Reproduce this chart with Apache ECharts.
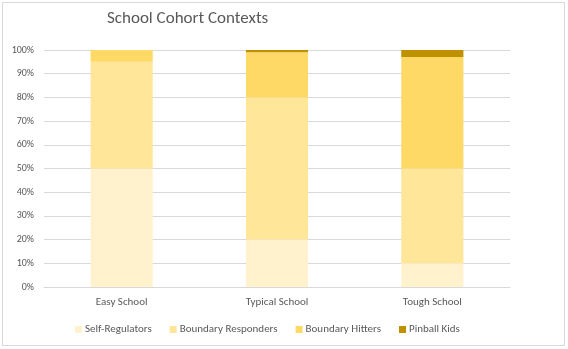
<!DOCTYPE html>
<html><head><meta charset="utf-8">
<script src="https://cdn.jsdelivr.net/npm/echarts@6/dist/echarts.min.js"></script>
<style>html,body{margin:0;padding:0;background:#fff}
#frame{position:absolute;left:2px;top:2px;width:563px;height:344px;border:1px solid #D9D9D9;box-sizing:border-box}
#c{position:absolute;left:0;top:0;width:568px;height:349px}</style>
</head><body><div id="frame"></div><div id="c"></div>
<script>
const categories = ['Easy School', 'Typical School', 'Tough School'];
const selfRegulators = [50, 20, 10];
const boundaryResponders = [45, 60, 40];
const boundaryHitters = [5, 19, 47];
const pinballKids = [0, 1, 3];
const yTicks = [0, 10, 20, 30, 40, 50, 60, 70, 80, 90, 100];

const chart = echarts.init(document.getElementById('c'));
const font = 'Calibri, Carlito, "Liberation Sans", sans-serif';
function s(name, data, color) {
  return {name, type: 'bar', stack: 't', data, barWidth: '40%', itemStyle: {color}, emphasis: {disabled: true}};
}
chart.setOption({
  animation: false,
  title: {text: 'School Cohort Contexts', left: 102, top: 5,
    textStyle: {fontFamily: font, fontSize: 17, fontWeight: 'normal', color: '#595959'}},
  grid: {left: 44, right: 58, top: 50, bottom: 62},
  legend: {bottom: 9, left: 70, itemWidth: 7, itemHeight: 7, itemGap: 18, icon: 'rect',
    textStyle: {fontFamily: font, fontSize: 11, color: '#595959', padding: [0, 0, 0, -2]},
    data: ['Self-Regulators', 'Boundary Responders', 'Boundary Hitters', 'Pinball Kids']},
  xAxis: {type: 'category', data: categories,
    axisLine: {lineStyle: {color: '#D9D9D9'}}, axisTick: {show: false},
    axisLabel: {fontFamily: font, fontSize: 11, color: '#595959', margin: 10}},
  yAxis: {type: 'value', min: 0, max: 100, interval: 10,
    axisLine: {show: false}, axisTick: {show: false},
    splitLine: {lineStyle: {color: '#D9D9D9'}},
    axisLabel: {fontFamily: font, fontSize: 10, color: '#595959', margin: 10,
      formatter: v => yTicks.includes(v) ? v + '%' : ''}},
  series: [
    s('Self-Regulators', selfRegulators, '#FFF2CC'),
    s('Boundary Responders', boundaryResponders, '#FFE699'),
    s('Boundary Hitters', boundaryHitters, '#FFD966'),
    s('Pinball Kids', pinballKids, '#BF9000')
  ]
});
</script></body></html>
